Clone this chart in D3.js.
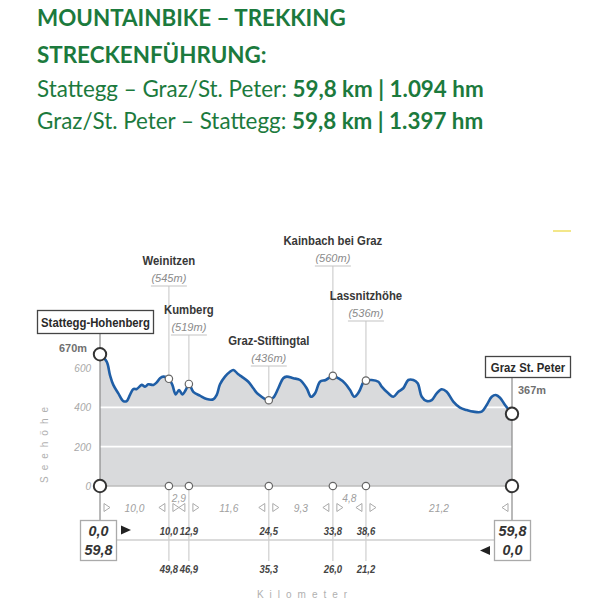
<!DOCTYPE html>
<html><head><meta charset="utf-8">
<script src="https://cdn.jsdelivr.net/npm/d3@7/dist/d3.min.js"></script>
<style>
body{margin:0;background:#fff;}
svg{display:block;}
</style></head><body>
<svg id="c" width="616" height="605"></svg>
<script>
// ---- data ----
const profileKm = [0,0.97,1.45,1.93,2.66,3.38,3.88,4.35,4.83,5.33,6.05,6.53,7.01,7.74,8.23,8.71,9.19,10.0,10.5,10.99,11.47,11.95,12.44,12.9,13.54,14.5,15.49,16.45,16.94,17.42,18.14,18.87,19.35,20.07,20.57,21.53,22.25,22.98,24.5,25.15,25.88,26.6,27.1,28.06,29.03,30.0,30.63,31.21,31.93,32.76,33.8,34.59,35.56,36.29,36.91,37.59,38.22,38.6,39.44,40.4,40.89,41.85,42.57,43.3,44.02,44.75,45.48,46.11,46.7,47.42,48.15,48.87,49.6,50.32,51.28,52.25,53.23,54.19,55.4,56.13,56.86,57.44,58.06,58.79,59.8];
const profileElev = [670,632,564,514,471,432,432,463,493,493,514,505,517,514,527,548,556,545,514,466,488,466,488,519,479,459,442,441,463,517,556,581,590,568,556,530,497,466,436,449,497,548,556,548,539,497,454,471,530,539,560,548,522,488,454,479,527,536,539,530,505,471,454,479,497,539,539,522,454,432,437,471,492,479,429,398,386,378,378,412,454,463,449,412,367];
const yTicks = [0,200,400,600];
const wpNames = ["Weinitzen","Kumberg","Graz-Stiftingtal","Kainbach bei Graz","Lassnitzhöhe"];
const wpKm = [10.0,12.9,24.5,33.8,38.6];
const wpElev = [545,519,436,560,536];
const wpKmBack = [49.8,46.9,35.3,26.0,21.2];
const segDist = [10.0,2.9,11.6,9.3,4.8,21.2];
const startName = "Stattegg-Hohenberg", startElev = 670;
const endName = "Graz St. Peter", endElev = 367;
const totalKm = 59.8;

// ---- layout ----
const svg = d3.select("#c");
const green = "#1c7a3d";
const FONT = "'Liberation Sans', Arial, sans-serif";
const x = d3.scaleLinear().domain([0,totalKm]).range([100,512]);
const y = d3.scaleLinear().domain([0,600]).range([486,368]);
const fmt = v => d3.format(".1f")(v).replace(".",",");
const profile = profileKm.map((k,i)=>({k, e:profileElev[i]}));

function measure(str,size,weight,style){
  const t = svg.append("text").attr("font-family",FONT).attr("font-size",size).attr("font-weight",weight).attr("font-style",style).text(str);
  const w = t.node().getComputedTextLength(); t.remove(); return w;
}
const fBold = 109/measure("Stattegg-Hohenberg",13,700,"normal");
const fItal = 35/measure("(545m)",11,400,"italic");
const fNum  = 18.5/measure("10,0",10.5,700,"italic");
const fSeg  = 19/measure("10,0",10,400,"italic");
const fBox  = 28/measure("59,8",14,700,"italic");
const fElev = 28/measure("670m",11.5,700,"normal");

function ctext(g,px,py,str,o){
  return g.append("text").attr("transform",`translate(${px},${py}) scale(${o.f},1)`)
    .attr("font-family",FONT).attr("font-size",o.size).attr("font-weight",o.weight||400)
    .attr("font-style",o.style||"normal").attr("fill",o.fill).attr("text-anchor",o.anchor||"middle").text(str);
}

// titles
const T = svg.append("g").attr("font-family","Lato, 'Open Sans', sans-serif").attr("fill",green);
T.append("text").attr("x",37).attr("y",26).attr("font-size",22.4).attr("font-weight",700).text("MOUNTAINBIKE – TREKKING");
T.append("text").attr("x",37).attr("y",63).attr("font-size",22.4).attr("font-weight",700).text("STRECKENFÜHRUNG:");
const l3 = T.append("text").attr("x",37).attr("y",97).attr("font-size",22.4);
l3.append("tspan").text("Stattegg – Graz/St. Peter: ");
l3.append("tspan").attr("font-weight",700).text("59,8 km | 1.094 hm");
const l4 = T.append("text").attr("x",37).attr("y",129).attr("font-size",22.4);
l4.append("tspan").text("Graz/St. Peter – Stattegg: ");
l4.append("tspan").attr("font-weight",700).text("59,8 km | 1.397 hm");

// small yellow dash
svg.append("line").attr("x1",553).attr("x2",571).attr("y1",231).attr("y2",231).attr("stroke","#f3e78a").attr("stroke-width",2);

// area
const area = d3.area().x(d=>x(d.k)).y0(y(0)).y1(d=>y(d.e)).curve(d3.curveCatmullRom.alpha(0.5));
const line = d3.line().x(d=>x(d.k)).y(d=>y(d.e)).curve(d3.curveCatmullRom.alpha(0.5));
svg.append("path").datum(profile).attr("d",area).attr("fill","#d9dadc");
svg.append("g").selectAll("line").data([200,400]).join("line")
  .attr("x1",x(0)).attr("x2",x(totalKm)).attr("y1",d=>y(d)).attr("y2",d=>y(d))
  .attr("stroke","#fff").attr("stroke-width",1.6);
svg.append("line").attr("x1",x(0)).attr("x2",x(totalKm)).attr("y1",y(0)).attr("y2",y(0)).attr("stroke","#bdbdbd").attr("stroke-width",1.5);
svg.append("line").attr("x1",x(0)).attr("x2",x(0)).attr("y1",333).attr("y2",520).attr("stroke","#8a8a8a").attr("stroke-width",1.2);
svg.append("line").attr("x1",x(totalKm)).attr("x2",x(totalKm)).attr("y1",377).attr("y2",520).attr("stroke","#8a8a8a").attr("stroke-width",1.2);

// waypoint leaders and labels
const uLine = [286,335,366,266,321];
const G = svg.append("g");
wpKm.forEach((k,i)=>{
  const cx = x(k);
  G.append("line").attr("x1",cx).attr("x2",cx).attr("y1",uLine[i]).attr("y2",y(wpElev[i])).attr("stroke","#cfcfcf").attr("stroke-width",1.2);
  G.append("line").attr("x1",cx).attr("x2",cx).attr("y1",y(0)).attr("y2",561).attr("stroke","#cfcfcf").attr("stroke-width",1.2);
  G.append("line").attr("x1",cx-18).attr("x2",cx+18).attr("y1",uLine[i]).attr("y2",uLine[i]).attr("stroke","#c4c4c4").attr("stroke-width",1.2);
  ctext(G,cx,uLine[i]-21,wpNames[i],{f:fBold,size:13,weight:700,fill:"#383838"});
  ctext(G,cx,uLine[i]-4,"("+wpElev[i]+"m)",{f:fItal,size:11,style:"italic",fill:"#8a8a8a"});
});

// profile line
svg.append("path").datum(profile).attr("d",line).attr("fill","none").attr("stroke","#1f5ea6").attr("stroke-width",2.6).attr("stroke-linejoin","round");

// y axis
const fTick = 16.7/measure("600",10.5,400,"italic");
const ya = svg.append("g").attr("transform",`translate(${x(0)},0)`)
  .call(d3.axisLeft(y).tickValues(yTicks).tickSize(0).tickPadding(9).tickFormat(d3.format("d")));
ya.select(".domain").remove();
ya.selectAll("text").attr("font-size",10.5).attr("font-style","italic").attr("fill","#a8a8a8").attr("font-family",FONT)
  .attr("x",-9/fTick).attr("transform",`scale(${fTick},1)`);

// markers
wpKm.forEach((k,i)=>{
  svg.append("circle").attr("cx",x(k)).attr("cy",y(wpElev[i])).attr("r",3.7).attr("fill","#fff").attr("stroke","#666").attr("stroke-width",1.2);
  svg.append("circle").attr("cx",x(k)).attr("cy",y(0)).attr("r",3.7).attr("fill","#fff").attr("stroke","#666").attr("stroke-width",1.2);
});
[[0,startElev],[totalKm,endElev]].forEach(([k,e])=>{
  svg.append("circle").attr("cx",x(k)).attr("cy",y(e)).attr("r",6.2).attr("fill","#fff").attr("stroke","#333").attr("stroke-width",2);
  svg.append("circle").attr("cx",x(k)).attr("cy",y(0)).attr("r",6.2).attr("fill","#fff").attr("stroke","#333").attr("stroke-width",2);
});

// start/end boxes
const B = svg.append("g");
B.append("rect").attr("x",37.5).attr("y",310.5).attr("width",116).attr("height",23).attr("fill","#fff").attr("stroke","#444").attr("stroke-width",1.3);
ctext(B,95.5,326.8,startName,{f:fBold,size:13,weight:700,fill:"#2a2a2a"});
ctext(B,87,352,startElev+"m",{f:fElev,size:11.5,weight:700,fill:"#707070",anchor:"end"});
B.append("rect").attr("x",485.5).attr("y",356.5).attr("width",85).attr("height",21).attr("fill","#fff").attr("stroke","#444").attr("stroke-width",1.3);
ctext(B,528,371.8,endName,{f:fBold,size:13,weight:700,fill:"#2a2a2a"});
ctext(B,518,394,endElev+"m",{f:fElev,size:11.5,weight:700,fill:"#707070",anchor:"start"});

// km scale
svg.append("line").attr("x1",117).attr("x2",494).attr("y1",540).attr("y2",540).attr("stroke","#cfcfcf").attr("stroke-width",1.6);
const K = svg.append("g");
[[80.5,98.5,0,totalKm],[494.5,512.5,totalKm,0]].forEach(([bx,tx,a,b])=>{
  K.append("rect").attr("x",bx).attr("y",520.5).attr("width",36).attr("height",40).attr("fill","#fff").attr("stroke","#aaa").attr("stroke-width",1.3);
  ctext(K,tx,536,fmt(a),{f:fBox,size:14,weight:700,style:"italic",fill:"#333"});
  ctext(K,tx,555,fmt(b),{f:fBox,size:14,weight:700,style:"italic",fill:"#333"});
});
K.append("path").attr("d","M121,525.5L131,530L121,534.5Z").attr("fill","#222");
K.append("path").attr("d","M490,546L480,550.5L490,555Z").attr("fill","#222");

wpKm.forEach((k,i)=>{
  ctext(K,x(k),535,fmt(k),{f:fNum,size:10.5,weight:700,style:"italic",fill:"#444"});
  ctext(K,x(k),573,fmt(wpKmBack[i]),{f:fNum,size:10.5,weight:700,style:"italic",fill:"#444"});
});

// segment distances and triangles
const bounds = [0,...wpKm,totalKm];
const triR = (cx)=>`M${cx-3},503.5L${cx+3},507.5L${cx-3},511.5Z`;
const triL = (cx)=>`M${cx+3},503.5L${cx-3},507.5L${cx+3},511.5Z`;
bounds.forEach((k,i)=>{
  const cx = x(k);
  if(i<bounds.length-1) K.append("path").attr("d",triR(cx+7)).attr("fill","none").attr("stroke","#aaa").attr("stroke-width",1);
  if(i>0) K.append("path").attr("d",triL(cx-7)).attr("fill","none").attr("stroke","#aaa").attr("stroke-width",1);
});
segDist.forEach((d,i)=>{
  const mid = (x(bounds[i])+x(bounds[i+1]))/2;
  const small = x(bounds[i+1])-x(bounds[i]) < 40;
  ctext(K,mid,small?501.5:511.5,fmt(d),{f:fSeg,size:10.5,style:"italic",fill:"#a0a0a0"});
});

// axis titles
K.append("text").attr("x",305).attr("y",598).attr("text-anchor","middle").attr("font-family",FONT).attr("font-size",10).attr("letter-spacing",6).attr("fill","#b0b0b0").text("Kilometer");
K.append("text").attr("transform","translate(48,442) rotate(-90)").attr("text-anchor","middle").attr("font-family",FONT).attr("font-size",10).attr("letter-spacing",6).attr("fill","#b0b0b0").text("Seehöhe");
</script></body></html>
